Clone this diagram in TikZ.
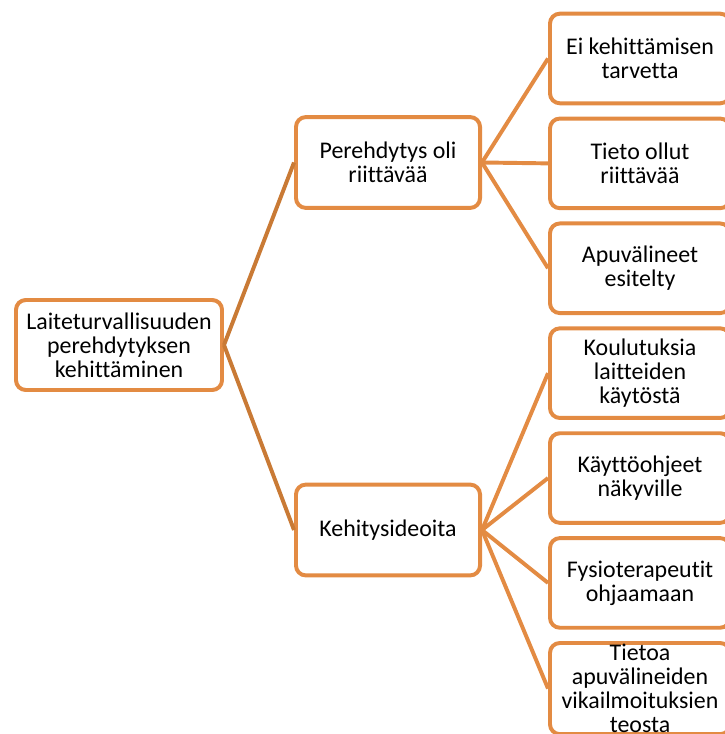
\documentclass[tikz,border=0pt]{standalone}
\usepackage{fontspec}
\setmainfont[Ligatures=NoCommon]{Carlito}
\usetikzlibrary{positioning}
\definecolor{oranssi}{HTML}{E38B43}
\definecolor{tummaor}{HTML}{C97A35}
\tikzset{
  laatikko/.style={rectangle, rounded corners=7pt, draw=oranssi, line width=2.8pt, fill=white,
                   align=center, font=\fontsize{17}{17}\selectfont, inner sep=1pt},
  juuri/.style={laatikko, minimum width=5.15cm, minimum height=2.25cm},
  keski/.style={laatikko, minimum width=4.6cm, minimum height=2.27cm},
  lehti/.style={laatikko, minimum width=4.5cm, minimum height=2.24cm},
  viiva/.style={line width=2.8pt, draw=oranssi},
  tviiva/.style={line width=2.8pt, draw=tummaor},
}
\begin{document}
\begin{tikzpicture}[x=0.025cm, y=-0.025cm, node distance=0.283cm]
  \useasboundingbox (0,0) rectangle (724,734);
  % juuri ja keskitaso
  \node[juuri] (root) at (119,345) {Laiteturvallisuuden\\perehdytyksen\\kehittäminen};
  \node[keski] (per) at (388,162.5) {Perehdytys oli\\riittävää};
  \node[keski] (keh) at (388,530) {Kehitysideoita};
  % lehdet
  \node[lehti] (l1) at (640,58.5) {Ei kehittämisen\\tarvetta};
  \node[lehti, below=of l1] (l2) {Tieto ollut\\riittävää};
  \node[lehti, below=of l2] (l3) {Apuvälineet\\esitelty};
  \node[lehti, below=of l3] (l4) {Koulutuksia\\laitteiden\\käytöstä};
  \node[lehti, below=of l4] (l5) {Käyttöohjeet\\näkyville};
  \node[lehti, below=of l5] (l6) {Fysioterapeutit\\ohjaamaan};
  \node[lehti, below=of l6] (l7) {Tietoa\\apuvälineiden\\vikailmoituksien\\teosta};
  % yhteydet
  \draw[tviiva](root.east)--(per.west); \draw[tviiva](root.east)--(keh.west);
  \foreach \l in {l1,l2,l3} \draw[viiva](per.east)--(\l.west);
  \foreach \l in {l4,l5,l6,l7} \draw[viiva](keh.east)--(\l.west);
\end{tikzpicture}
\end{document}
